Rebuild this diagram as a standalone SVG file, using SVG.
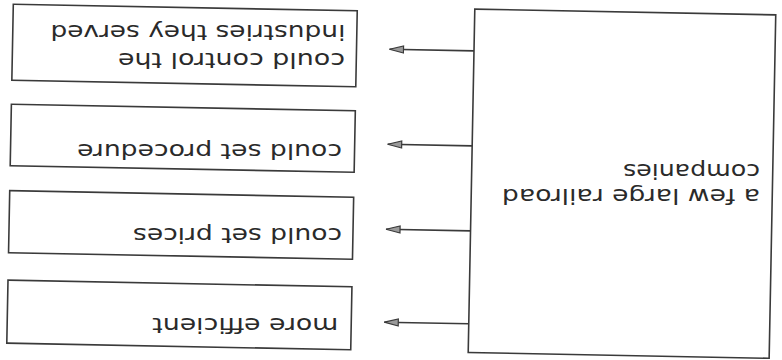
<svg xmlns="http://www.w3.org/2000/svg" width="782" height="360" viewBox="0 0 782 360">
<style>
.box{fill:#fff;stroke:#3a3a3a;stroke-width:1.6}
.lbl{font-family:"DejaVu Sans",Verdana,sans-serif;font-size:21.5px;fill:#2a2a2a}
.conn{stroke:#3a3a3a;stroke-width:1.6;fill:none}
</style>
<defs>
<marker id="arr" markerUnits="userSpaceOnUse" markerWidth="18" markerHeight="12" refX="15" refY="5" orient="auto">
<path d="M1,1.5 L15,5 L1,8.5 Z" fill="#9a9a9a" stroke="#3a3a3a" stroke-width="1.2"/>
</marker>
</defs>
<rect width="782" height="360" fill="#fff"/>
<g id="companies">
<rect class="box" x="9.5" y="9" width="301" height="343.5" transform="rotate(181.1 391 180)"/>
<g transform="rotate(180 391 180)">
<text class="lbl" x="22" y="170.6" textLength="258" lengthAdjust="spacingAndGlyphs">a few large railroad</text>
<text class="lbl" x="22" y="196.1" textLength="137" lengthAdjust="spacingAndGlyphs">companies</text>
</g>
</g>
<g id="efficient">
<rect class="box" x="428" y="9.5" width="344" height="63" transform="rotate(181.1 391 180)"/>
<text class="lbl" x="443.7" y="41.7" textLength="186" lengthAdjust="spacingAndGlyphs" transform="rotate(180 391 180)">more efficient</text>
</g>
<g id="prices">
<rect class="box" x="428" y="100" width="344" height="62" transform="rotate(181.1 391 180)"/>
<text class="lbl" x="440" y="131.9" textLength="209" lengthAdjust="spacingAndGlyphs" transform="rotate(180 391 180)">could set prices</text>
</g>
<g id="procedure">
<rect class="box" x="428" y="187" width="344" height="61.5" transform="rotate(181.1 391 180)"/>
<text class="lbl" x="440" y="216.5" textLength="265" lengthAdjust="spacingAndGlyphs" transform="rotate(180 391 180)">could set procedure</text>
</g>
<g id="control">
<rect class="box" x="428" y="272.5" width="344" height="76" transform="rotate(181.1 391 180)"/>
<g transform="rotate(180 391 180)">
<text class="lbl" x="437" y="306.7" textLength="227" lengthAdjust="spacingAndGlyphs">could control the</text>
<text class="lbl" x="436.6" y="335.1" textLength="295" lengthAdjust="spacingAndGlyphs">industries they served</text>
</g>
</g>
<g id="connectors" transform="rotate(181.1 391 180)">
<line class="conn" x1="310.5" y1="37.7" x2="395" y2="37.7" marker-end="url(#arr)"/>
<line class="conn" x1="310.5" y1="130.7" x2="395" y2="130.7" marker-end="url(#arr)"/>
<line class="conn" x1="310.5" y1="215.7" x2="395" y2="215.7" marker-end="url(#arr)"/>
<line class="conn" x1="310.5" y1="310.7" x2="395" y2="310.7" marker-end="url(#arr)"/>
</g>
</svg>
